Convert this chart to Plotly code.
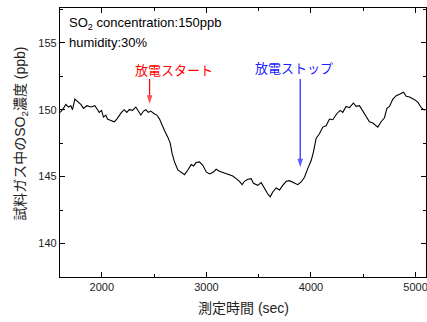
import plotly.graph_objects as go

time_sec = [1602, 1624, 1656, 1682, 1704, 1720, 1742, 1768, 1799, 1825, 1857, 1895, 1933, 1959, 1975,
            1997, 2016, 2038, 2054, 2086, 2119, 2143, 2166, 2188, 2214, 2239, 2262, 2293, 2325, 2348,
            2373, 2399, 2421, 2444, 2468, 2501, 2526, 2552, 2577, 2599, 2631, 2654, 2673, 2695, 2727,
            2759, 2791, 2822, 2855, 2877, 2902, 2934, 2966, 2998, 3030, 3061, 3094, 3125, 3157, 3189,
            3221, 3252, 3285, 3316, 3342, 3364, 3396, 3428, 3450, 3491, 3524, 3555, 3587, 3610, 3635,
            3667, 3699, 3730, 3763, 3794, 3826, 3874, 3906, 3938, 3969, 4002, 4024, 4049, 4081, 4113,
            4145, 4177, 4209, 4247, 4279, 4304, 4336, 4368, 4406, 4432, 4464, 4495, 4528, 4559, 4591,
            4639, 4671, 4703, 4726, 4751, 4783, 4815, 4847, 4885, 4911, 4943, 4991, 5023, 5055, 5087]
so2_ppb = [149.8, 150.0, 150.4, 150.2, 150.3, 150.0, 150.8, 150.6, 150.4, 150.1, 150.3, 150.2, 150.3, 150.0, 149.8,
           149.95, 149.45, 149.6, 149.3, 149.2, 149.1, 149.3, 149.6, 149.8, 150.0, 149.8, 150.0, 149.95, 150.2, 149.95,
           149.6, 149.9, 150.0, 149.8, 149.9, 149.7, 149.6, 149.3, 148.8, 148.45, 147.95, 147.5, 146.7, 146.1, 145.5,
           145.3, 145.15, 145.5, 145.9, 145.8, 146.05, 146.1, 145.85, 145.35, 145.2, 145.3, 145.55, 145.4, 145.3, 145.2,
           145.15, 145.05, 144.85, 144.65, 144.4, 144.65, 144.8, 144.85, 144.5, 144.35, 144.55, 144.1, 143.7, 143.5, 143.85,
           144.15, 144.0, 144.35, 144.65, 144.7, 144.6, 144.4, 144.6, 144.95, 145.6, 146.2, 146.85, 147.85, 148.2, 148.7,
           148.8, 149.3, 149.25, 149.7, 149.95, 149.8, 150.25, 150.15, 150.5, 150.25, 150.3, 149.9, 149.45, 149.1, 149.0,
           148.7, 149.1, 149.4, 150.1, 150.25, 150.8, 151.05, 151.15, 151.3, 151.0, 150.95, 150.75, 150.55, 150.15, 149.95]

x_ticks = [2000, 3000, 4000, 5000]
y_ticks = [140, 145, 150, 155]

x_title = "測定時間 (sec)"
y_title = "試料ガス中のSO<sub>2</sub>濃度 (ppb)"
start_label = "放電スタート"
stop_label = "放電ストップ"
start_time = 2457
stop_time = 3897
arrow_top = 152.3
start_tip = 150.45
stop_tip = 145.7

FONT = "Liberation Sans, Arial, Noto Sans CJK JP, sans-serif"

fig = go.Figure()
fig.add_trace(go.Scatter(x=time_sec, y=so2_ppb, mode="lines",
                         line=dict(color="black", width=1.1), showlegend=False, hoverinfo="skip"))

# arrows as lines ending in an arrow marker
for t, tip, col in [(start_time, start_tip, "#ff0000"), (stop_time, stop_tip, "#2020ff")]:
    fig.add_trace(go.Scatter(x=[t, t], y=[arrow_top, tip], mode="lines+markers",
                             line=dict(color=col, width=1.2),
                             marker=dict(symbol="arrow", angleref="previous", size=[0, 9], color=col,
                                         line=dict(width=0)),
                             showlegend=False, hoverinfo="skip"))

axis_common = dict(showline=True, linecolor="black", linewidth=1.2, mirror="allticks",
                   ticks="inside", ticklen=5, tickwidth=1, tickcolor="black",
                   showgrid=False, zeroline=False, automargin=False, ticklabeloverflow="allow",
                   tickfont=dict(family=FONT, size=11, color="#222"))

fig.update_xaxes(range=[1600, 5100], tickvals=x_ticks,
                 minor=dict(ticks="inside", ticklen=3, tickwidth=1, tickcolor="black", dtick=500, tick0=1500),
                 **axis_common)
fig.update_yaxes(range=[137.5, 157.6], tickvals=y_ticks,
                 minor=dict(ticks="inside", ticklen=3, tickwidth=1, tickcolor="black", dtick=2.5, tick0=137.5),
                 **axis_common)

ann = []
ann.append(dict(x=0.5, y=-0.115, xref="paper", yref="paper", xanchor="center", yanchor="middle",
                text=x_title, showarrow=False, font=dict(family=FONT, size=14, color="#222")))
ann.append(dict(x=-0.107, y=0.532, xref="paper", yref="paper", xanchor="center", yanchor="middle",
                text=y_title, textangle=-90, showarrow=False, font=dict(family=FONT, size=14, color="#222")))
ann.append(dict(x=0.02, y=0.983, xref="paper", yref="paper", xanchor="left", yanchor="top",
                text="SO<sub>2</sub> concentration:150ppb", showarrow=False,
                font=dict(family=FONT, size=13, color="black")))
ann.append(dict(x=0.02, y=0.872, xref="paper", yref="paper", xanchor="left", yanchor="middle",
                text="humidity:30%", showarrow=False,
                font=dict(family=FONT, size=13, color="black")))
ann.append(dict(x=2687, y=152.9, xref="x", yref="y", text=start_label, showarrow=False,
                font=dict(family=FONT, size=13, color="#ff0000")))
ann.append(dict(x=3835, y=153.05, xref="x", yref="y", text=stop_label, showarrow=False,
                font=dict(family=FONT, size=13, color="#2020ff")))

fig.update_layout(width=427, height=322, margin=dict(l=60, r=1, t=8, b=45),
                  plot_bgcolor="white", paper_bgcolor="white", annotations=ann,
                  font=dict(family=FONT))

fig.write_html("out.html", config={"displayModeBar": False},
               post_script="document.body.style.margin='0';")
